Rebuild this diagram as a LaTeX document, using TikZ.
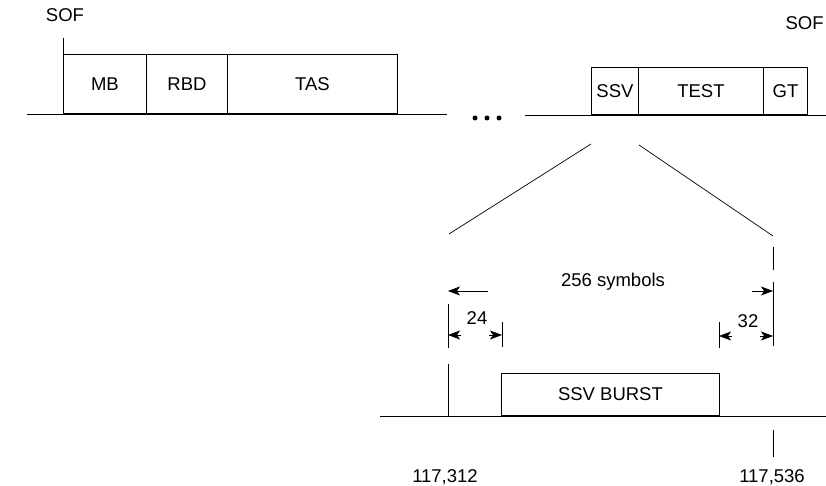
\documentclass[tikz,border=0pt]{standalone}
\usepackage{fontspec}
\setmainfont{Liberation Sans}
\usetikzlibrary{arrows.meta}
\begin{document}
\begin{tikzpicture}[x=1pt,y=-1pt,line width=0.9pt,
  txt/.style={font=\fontsize{18.5}{22}\selectfont,inner sep=0pt},
  fld/.style={draw,line width=0.9pt,inner sep=0pt,anchor=south west,font=\fontsize{18.5}{22}\selectfont},
  dimtip/.style={-{Stealth[length=12pt,width=9pt,inset=3pt]}},
  thin line/.style={line width=0.7pt},
  dot/.style={circle,fill,inner sep=0pt,minimum size=5pt}]
\useasboundingbox (0,0) rectangle (826,486);
% ---- top frame ----
\node[txt] (sofl) at (65,15) {SOF};
\coordinate (sofla) at (63,38);
\coordinate (soflb) at (63,55);
\draw[thin line] (sofla) -- (soflb);
\coordinate (bl1) at (27,114);
\coordinate (bl2) at (447,114);
\draw (bl1) -- (bl2);
\node[fld,minimum width=83pt,minimum height=59pt] (mb) at (63,114) {MB};
\node[fld,minimum width=81pt,minimum height=59pt] (rbd) at (146,114) {RBD};
\node[fld,minimum width=170pt,minimum height=59pt] (tas) at (227,114) {TAS};
\node[dot] (d1) at (475,118) {};
\node[dot] (d2) at (487,118) {};
\node[dot] (d3) at (499,118) {};
\coordinate (br1) at (525,115);
\coordinate (br2) at (826,115);
\draw (br1) -- (br2);
\node[fld,minimum width=47pt,minimum height=47pt] (ssv) at (591,115) {SSV};
\node[fld,minimum width=125pt,minimum height=47pt] (test) at (638,115) {TEST};
\node[fld,minimum width=44pt,minimum height=47pt] (gt) at (763,115) {GT};
\node[txt,anchor=east] (sofr) at (824,23) {SOF};
% ---- expansion lines ----
\coordinate (ea) at (591,144);
\coordinate (eb) at (449,234);
\coordinate (ec) at (639,145);
\coordinate (ed) at (773,236);
\draw[thin line] (ea) -- (eb);
\draw[thin line] (ec) -- (ed);
% ---- dimension lines ----
\coordinate (r1) at (773,247);
\coordinate (r2) at (773,270);
\coordinate (r3) at (773,282);
\coordinate (r4) at (773,346);
\draw[thin line] (r1) -- (r2);
\draw[thin line] (r3) -- (r4);
\coordinate (l1) at (448,304);
\coordinate (l2) at (448,348);
\coordinate (l3) at (448,364);
\coordinate (l4) at (448,416);
\draw[thin line] (l1) -- (l2);
\draw[thin line] (l3) -- (l4);
\coordinate (m1) at (502,322);
\coordinate (m2) at (502,347);
\draw[thin line] (m1) -- (m2);
\coordinate (n1) at (719,322);
\coordinate (n2) at (719,348);
\draw[thin line] (n1) -- (n2);
\node[txt] (sym) at (613,282) {256 symbols};
\coordinate (s1) at (488,291);
\coordinate (s2) at (448,291);
\coordinate (s3) at (752,291);
\coordinate (s4) at (773,291);
\draw[thin line,dimtip] (s1) -- (s2);
\draw[thin line,dimtip] (s3) -- (s4);
\node[txt] (t24) at (477,318) {24};
\coordinate (a1) at (461,335);
\coordinate (a2) at (448,335);
\coordinate (a3) at (489,335);
\coordinate (a4) at (502,335);
\draw[thin line,dimtip] (a1) -- (a2);
\draw[thin line,dimtip] (a3) -- (a4);
\node[txt] (t32) at (748,321) {32};
\coordinate (b1) at (732,336);
\coordinate (b2) at (719,336);
\coordinate (b3) at (760,336);
\coordinate (b4) at (773,336);
\draw[thin line,dimtip] (b1) -- (b2);
\draw[thin line,dimtip] (b3) -- (b4);
% ---- bottom burst ----
\coordinate (bb1) at (380,416);
\coordinate (bb2) at (826,416);
\draw (bb1) -- (bb2);
\node[fld,minimum width=218pt,minimum height=42pt] (burst) at (501,416) {SSV BURST};
\coordinate (k1) at (773,430);
\coordinate (k2) at (773,457);
\draw[thin line] (k1) -- (k2);
\node[txt] (v1) at (445,477) {117,312};
\node[txt] (v2) at (772,477) {117,536};
\end{tikzpicture}
\end{document}
